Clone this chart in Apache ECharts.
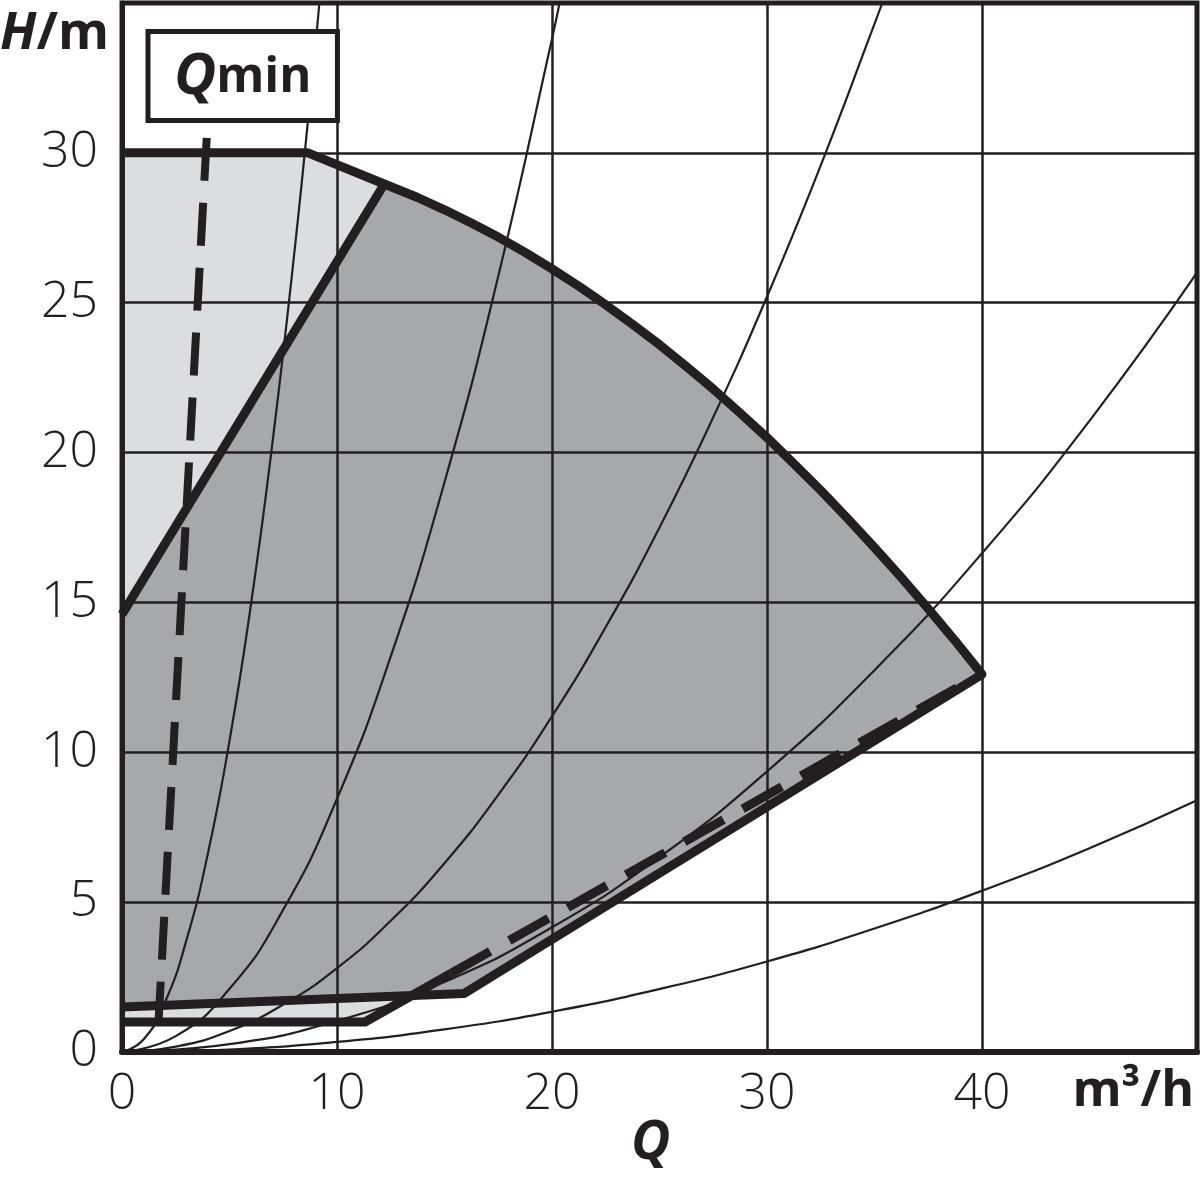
<!DOCTYPE html>
<html>
<head>
<meta charset="utf-8">
<script src="https://cdn.jsdelivr.net/npm/echarts@6/dist/echarts.min.js"></script>
<style>
html,body{margin:0;padding:0;background:#fff;}
#chart{width:1200px;height:1178px;}
</style>
</head>
<body>
<div id="chart"></div>
<script>
// ---- data ----
const xTicks = [0, 10, 20, 30, 40];
const yTicks = [0, 5, 10, 15, 20, 25, 30];

// maximum curve (top line + pump curve)
const maxQ = [0, 8.65, 12.2, 13.75, 15, 16.25, 17.5, 18.75, 20, 21.25, 22.5, 23.75, 25, 26.25, 27.5, 28.75, 30, 31.25, 32.5, 33.75, 35, 36.25, 37.5, 38.75, 40];
const maxH = [30, 30, 28.96, 28.51, 28.1, 27.66, 27.19, 26.68, 26.13, 25.55, 24.93, 24.28, 23.6, 22.87, 22.12, 21.32, 20.5, 19.63, 18.74, 17.8, 16.83, 15.83, 14.79, 13.72, 12.6];

// diagonal line bounding the dark area on the left
const diagQ = [0, 12.2];
const diagH = [14.6, 28.96];

// lower boundary of the dark area
const darkLowQ = [40, 15.9, 0];
const darkLowH = [12.6, 1.95, 1.5];

// lower boundary of the light area (solid part then dashed part)
const lightLowQ = [0, 11.3, 15.3];
const lightLowH = [1.0, 1.0, 2.62];
const lightDashQ = [15.3, 39.7];
const lightDashH = [2.62, 12.5];

// Qmin dashed line
const qminQ = [3.94, 1.67];
const qminH = [30.5, 0.63];

// system curves (thin lines through origin)
const sys1Q = [0, 1, 2, 3, 4, 5, 6, 7, 8, 9, 9.18];
const sys1H = [0, 0.42, 1.66, 3.74, 6.64, 10.38, 14.94, 20.34, 26.56, 33.62, 35];
const sys2Q = [0, 2.5, 5, 7.5, 10, 12.5, 15, 17.5, 20, 20.35];
const sys2H = [0, 0.53, 2.11, 4.75, 8.45, 13.2, 19.01, 25.88, 33.8, 35];
const sys3Q = [0, 2.5, 5, 7.5, 10, 12.5, 15, 17.5, 20, 22.5, 25, 27.5, 30, 32.5, 35, 35.36];
const sys3H = [0, 0.18, 0.7, 1.58, 2.8, 4.38, 6.3, 8.58, 11.2, 14.18, 17.5, 21.18, 25.2, 29.58, 34.3, 35];
const sys4Q = [0, 5, 10, 15, 20, 25, 30, 35, 40, 45, 50];
const sys4H = [0, 0.26, 1.04, 2.34, 4.16, 6.5, 9.36, 12.74, 16.64, 21.06, 26.0];
const sys5Q = [0, 5, 10, 15, 20, 25, 30, 35, 40, 45, 50];
const sys5H = [0, 0.084, 0.336, 0.756, 1.344, 2.1, 3.02, 4.12, 5.38, 6.8, 8.4];

// Qmin label box (data corners)
const boxQ = [1.21, 10.02];
const boxH = [34.05, 31.08];

// ---- helpers ----
const INK = '#231f20';
const LIGHT = '#dcdddf';
const DARK = '#a7a8ab';
const pairs = (xs, ys) => xs.map((x, i) => [x, ys[i]]);

const maxPts = pairs(maxQ, maxH);
const lightPoly = maxPts.concat(pairs([11.3, 0], [1.0, 1.0]));
const darkPoly = pairs(diagQ, diagH).concat(maxPts.filter(p => p[0] > 12.2)).concat(pairs(darkLowQ.slice(1), darkLowH.slice(1)));

function polySeries(pts, color, z) {
  return {
    type: 'custom', coordinateSystem: 'cartesian2d', z: z, silent: true,
    data: [[0, 0]],
    renderItem: function (params, api) {
      return { type: 'polygon', shape: { points: pts.map(p => api.coord(p)) }, style: { fill: color } };
    }
  };
}
function lineSeries(pts, width, z, extra) {
  return Object.assign({
    type: 'line', data: pts, z: z, silent: true, showSymbol: false, symbol: 'none',
    animation: false,
    lineStyle: { color: INK, width: width, cap: 'butt', join: 'round' }
  }, extra || {});
}

const FONT = 'Open Sans';
const chart = echarts.init(document.getElementById('chart'), null, { renderer: 'canvas' });
const option = {
  animation: false,
  backgroundColor: '#fff',
  grid: { left: 122, right: 3, top: 3, bottom: 126, show: true, borderWidth: 5, borderColor: INK, backgroundColor: 'transparent' },
  xAxis: {
    type: 'value', min: 0, max: 50, interval: 10, z: 3,
    axisLine: { show: true, onZero: false, lineStyle: { color: INK, width: 6 } },
    axisTick: { show: false },
    splitLine: { show: true, lineStyle: { color: INK, width: 2.5 } },
    axisLabel: { margin: 18, fontSize: 50, fontFamily: FONT, fontWeight: 300, color: INK,
      formatter: v => (xTicks.indexOf(v) >= 0 ? String(v) : '') }
  },
  yAxis: {
    type: 'value', min: 0, max: 35, interval: 5, z: 3,
    axisLine: { show: true, onZero: false, lineStyle: { color: INK, width: 5 } },
    axisTick: { show: false },
    splitLine: { show: true, lineStyle: { color: INK, width: 2.5 } },
    axisLabel: { margin: 24, fontSize: 50, fontFamily: FONT, fontWeight: 300, color: INK,
      formatter: v => (yTicks.indexOf(v) >= 0 ? String(v) : '') }
  },
  series: [
    polySeries(lightPoly, LIGHT, 1),
    polySeries(darkPoly, DARK, 1),
    lineSeries(pairs(sys1Q, sys1H), 2.2, 4, { smooth: true }),
    lineSeries(pairs(sys2Q, sys2H), 2.2, 4, { smooth: true }),
    lineSeries(pairs(sys3Q, sys3H), 2.2, 4, { smooth: true }),
    lineSeries(pairs(sys4Q, sys4H), 2.2, 4, { smooth: true }),
    lineSeries(pairs(sys5Q, sys5H), 2.2, 4, { smooth: true }),
    lineSeries(pairs(lightLowQ, lightLowH), 9, 5),
    lineSeries(pairs(lightDashQ, lightDashH), 9, 5, { lineStyle: { color: INK, width: 9, type: [45, 22], cap: 'butt' } }),
    lineSeries(maxPts.concat(pairs(darkLowQ.slice(1), darkLowH.slice(1))), 9, 6),
    lineSeries(pairs(diagQ, diagH), 9, 6),
    lineSeries(pairs(qminQ, qminH), 8, 7, {
      lineStyle: { color: INK, width: 8, type: [43, 22], cap: 'butt' },
      markArea: {
        silent: true,
        z: 8,
        itemStyle: { color: '#fff', borderColor: INK, borderWidth: 5 },
        label: {
          show: true, position: 'inside', offset: [0, 2], formatter: '{q|Q}{m|min}',
          rich: {
            q: { fontFamily: FONT, fontSize: 58, fontWeight: 'bold', fontStyle: 'italic', color: INK },
            m: { fontFamily: FONT, fontSize: 49, fontWeight: 'bold', color: INK }
          }
        },
        data: [[{ coord: [boxQ[0], boxH[0]] }, { coord: [boxQ[1], boxH[1]] }]]
      }
    })
  ],
  graphic: [
    { type: 'text', left: 0, top: 8, z: 10,
      style: { text: '{h|H}{s|/m}', rich: {
        h: { fontFamily: FONT, fontSize: 52, fontWeight: 'bold', fontStyle: 'italic', fill: INK },
        s: { fontFamily: FONT, fontSize: 52, fontWeight: 'bold', fill: INK } } } },
    { type: 'text', right: 6, top: 1067, z: 10,
      style: { text: 'm³/h', font: 'bold 50px "Open Sans"', fill: INK } },
    { type: 'text', left: 631, top: 1117, z: 10,
      style: { text: 'Q', font: 'italic bold 54px "Open Sans"', fill: INK } }
  ]
};
chart.setOption(option);
</script>
</body>
</html>
